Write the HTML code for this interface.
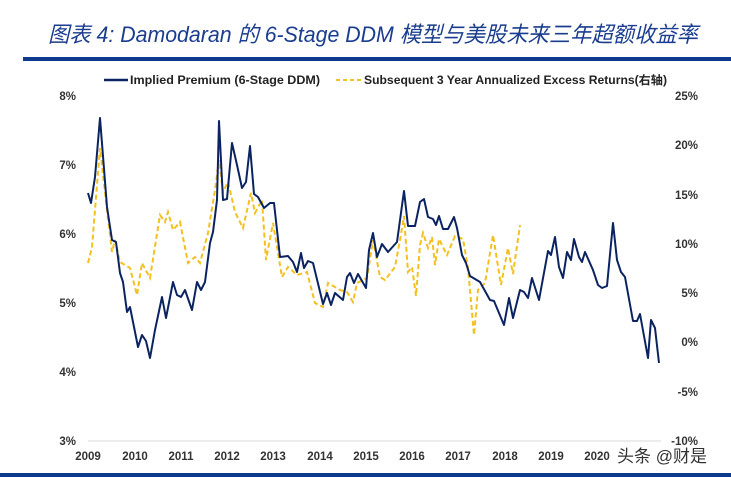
<!DOCTYPE html>
<html><head><meta charset="utf-8"><style>
html,body{margin:0;padding:0;background:#fff;}
svg{display:block;}
text{font-family:"Liberation Sans","Noto Sans CJK SC",sans-serif;}
</style></head><body>
<svg width="731" height="477" viewBox="0 0 731 477" xmlns="http://www.w3.org/2000/svg">
<text x="48" y="42" font-size="22" font-style="italic" fill="#1a3d8f" textLength="650" lengthAdjust="spacingAndGlyphs" font-family="Liberation Sans,Noto Sans CJK SC,sans-serif">图表 4:  Damodaran 的 6-Stage DDM 模型与美股未来三年超额收益率</text>
<rect x="23" y="57" width="708" height="4" fill="#0d3a8c"/>
<rect x="0" y="473" width="731" height="4" fill="#0d3a8c"/>
<line x1="88" y1="441" x2="661" y2="441" stroke="#d9d9d9" stroke-width="1"/>
<g font-size="11.5" font-weight="bold" fill="#222">
<line x1="104" y1="80" x2="128" y2="80" stroke="#0b2461" stroke-width="2.5"/>
<text x="130" y="84" textLength="190" lengthAdjust="spacingAndGlyphs">Implied Premium (6-Stage DDM)</text>
<line x1="336" y1="80" x2="361" y2="80" stroke="#f4c020" stroke-width="2" stroke-dasharray="4,3"/>
<text x="364" y="84" textLength="303" lengthAdjust="spacingAndGlyphs">Subsequent 3 Year Annualized Excess Returns(右轴)</text>
</g>
<g font-size="11.5" font-weight="bold" fill="#333" text-anchor="end">
<text x="76" y="100">8%</text><text x="76" y="169">7%</text><text x="76" y="238">6%</text>
<text x="76" y="307">5%</text><text x="76" y="376">4%</text><text x="76" y="445">3%</text>
</g>
<g font-size="11.5" font-weight="bold" fill="#333" text-anchor="end">
<text x="698" y="100">25%</text><text x="698" y="149">20%</text><text x="698" y="199">15%</text>
<text x="698" y="248">10%</text><text x="698" y="297">5%</text><text x="698" y="346">0%</text>
<text x="698" y="396">-5%</text><text x="698" y="445">-10%</text>
</g>
<g font-size="11.5" font-weight="bold" fill="#333" text-anchor="middle">
<text x="88" y="460">2009</text><text x="135" y="460">2010</text><text x="181" y="460">2011</text>
<text x="227" y="460">2012</text><text x="273" y="460">2013</text><text x="320" y="460">2014</text>
<text x="366" y="460">2015</text><text x="412" y="460">2016</text><text x="458" y="460">2017</text>
<text x="505" y="460">2018</text><text x="551" y="460">2019</text><text x="597" y="460">2020</text>
</g>
<polyline fill="none" stroke="#f4c020" stroke-width="2" stroke-dasharray="5,3" points="88,263 92,247 100,148 107,210 112,252 115,240 120,262 130,268 137,295 142,263 150,278 160,215 165,222 168,212 173,230 180,222 188,263 195,257 200,263 208,233 215,190 219,160 223,192 228,182 235,212 243,228 251,193 255,213 262,200 266,260 273,223 282,277 288,267 297,275 307,272 315,303 323,307 328,283 340,290 347,292 353,302 357,283 367,278 373,240 380,277 385,280 395,267 400,240 404,216 408,272 412,267 416,296 420,245 423,233 428,248 432,237 435,265 439,239 447,255 455,236 463,239 468,268 474,335 478,290 485,283 493,235 501,285 508,248 513,274 520,225"/>
<polyline fill="none" stroke="#0b2461" stroke-width="2" stroke-linejoin="round" points="88,193 91,203 95,177 100,118 107,207 112,240 116,242 120,273 123,282 127,312 130,307 138,347 142,335 146,341 150,358 155,330 162,297 166,318 173,282 177,295 181,297 185,290 192,310 197,282 201,290 205,282 210,243 213,232 217,200 219,121 223,200 227,199 232,143 237,165 242,188 246,182 250,146 254,194 258,197 264,208 270,203 274,203 280,257 288,256 293,262 297,272 301,253 304,268 308,261 313,263 323,304 327,293 331,305 335,293 343,300 347,277 350,273 354,283 358,274 366,288 369,250 373,233 377,257 382,244 388,252 397,242 404,191 408,226 415,226 420,202 424,199 428,217 433,219 436,225 439,216 443,229 448,229 454,217 457,228 462,255 466,263 470,276 480,282 490,300 494,301 504,325 509,298 513,318 520,290 524,292 528,298 532,278 539,300 548,251 551,255 555,237 559,267 563,278 567,252 571,260 574,239 579,257 582,262 585,252 593,270 598,285 602,288 607,286 613,223 617,260 621,272 625,277 633,321 637,321 640,314 648,358 651,320 655,328 659,363"/>
<text x="617" y="462" font-size="17" fill="#333" font-family="Noto Sans CJK SC,sans-serif">头条 @财是</text>
</svg>
</body></html>
